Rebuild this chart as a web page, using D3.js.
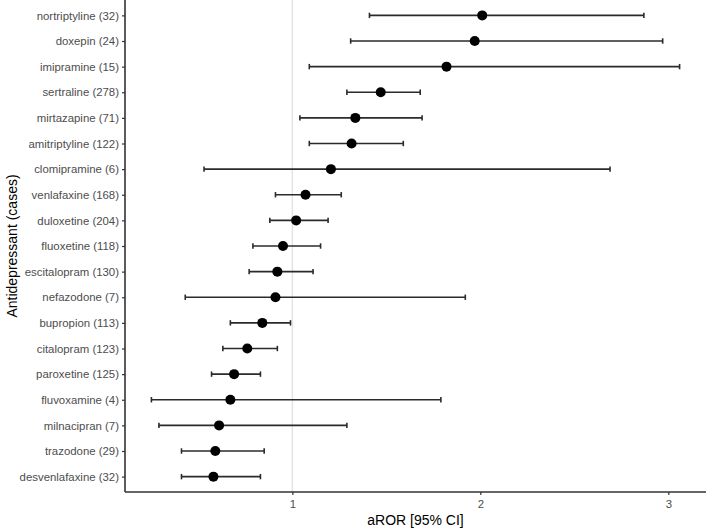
<!DOCTYPE html>
<html>
<head>
<meta charset="utf-8">
<script src="https://cdn.jsdelivr.net/npm/d3@7"></script>
<style>
  body { margin: 0; background: #fff; }
  svg { display: block; }
</style>
</head>
<body>
<svg id="chart" width="709" height="528"></svg>
<script>
// Data (top to bottom)
const drugs = ["nortriptyline (32)","doxepin (24)","imipramine (15)","sertraline (278)","mirtazapine (71)","amitriptyline (122)","clomipramine (6)","venlafaxine (168)","duloxetine (204)","fluoxetine (118)","escitalopram (130)","nefazodone (7)","bupropion (113)","citalopram (123)","paroxetine (125)","fluvoxamine (4)","milnacipran (7)","trazodone (29)","desvenlafaxine (32)"];
const aror  = [2.01, 1.97, 1.82, 1.47, 1.335, 1.315, 1.205, 1.07, 1.02, 0.95, 0.92, 0.91, 0.84, 0.76, 0.69, 0.67, 0.61, 0.59, 0.58];
const lower = [1.41, 1.31, 1.09, 1.29, 1.04, 1.09, 0.53, 0.91, 0.88, 0.79, 0.77, 0.43, 0.67, 0.63, 0.57, 0.25, 0.29, 0.41, 0.41];
const upper = [2.87, 2.97, 3.06, 1.68, 1.69, 1.59, 2.69, 1.26, 1.19, 1.15, 1.11, 1.92, 0.99, 0.92, 0.83, 1.79, 1.29, 0.85, 0.83];
const xTicks = [1, 2, 3];

const svg = d3.select("#chart");
const margin = {left: 125, right: 3, top: 0, bottom: 36};
const W = 709, H = 528;
const FONT = "Liberation Sans, Arial, sans-serif";

const lo = d3.min(lower), hi = d3.max(upper), pad = (hi - lo) * 0.05;
const x = d3.scaleLinear().domain([lo - pad, hi + pad]).range([margin.left, W - margin.right]);
const y = d3.scalePoint().domain(drugs).range([margin.top, H - margin.bottom]).padding(0.6);

// reference line at 1
svg.append("line")
  .attr("x1", x(1)).attr("x2", x(1))
  .attr("y1", margin.top).attr("y2", H - margin.bottom)
  .attr("stroke", "#e3e3e3").attr("stroke-width", 1.5);

const rows = drugs.map((d, i) => ({d, m: aror[i], l: lower[i], u: upper[i]}));
const capH = 2.7;
const g = svg.append("g");
rows.forEach(r => {
  const yy = y(r.d);
  g.append("line").attr("x1", x(r.l)).attr("x2", x(r.u)).attr("y1", yy).attr("y2", yy)
    .attr("stroke", "#2b2b2b").attr("stroke-width", 1.6);
  [r.l, r.u].forEach(v => g.append("line").attr("x1", x(v)).attr("x2", x(v))
    .attr("y1", yy - capH).attr("y2", yy + capH).attr("stroke", "#2b2b2b").attr("stroke-width", 1.6));
  g.append("circle").attr("cx", x(r.m)).attr("cy", yy).attr("r", 5).attr("fill", "#000");
});

// axes
const xAxis = svg.append("g").attr("transform", `translate(0,${H - margin.bottom})`)
  .call(d3.axisBottom(x).tickValues(xTicks).tickFormat(d3.format("d")).tickSize(3).tickPadding(5));
const yAxis = svg.append("g").attr("transform", `translate(${margin.left},0)`)
  .call(d3.axisLeft(y).tickSize(3).tickPadding(3));
[xAxis, yAxis].forEach(a => {
  a.select(".domain").attr("stroke", "#333").attr("stroke-width", 1.6);
  a.selectAll(".tick line").attr("stroke", "#333").attr("stroke-width", 1.2);
  a.selectAll(".tick text").attr("fill", "#4d4d4d").style("font-family", FONT).style("font-size", "11.4px");
});
xAxis.select(".domain").attr("d", `M${margin.left},0H${W - margin.right}`);
yAxis.select(".domain").attr("d", `M0,${margin.top}V${H - margin.bottom}`);

// titles
svg.append("text").attr("x", (margin.left + W - margin.right) / 2).attr("y", 525)
  .attr("text-anchor", "middle").style("font-family", FONT)
  .style("font-size", "14px").attr("fill", "#000").text("aROR [95% CI]");
svg.append("text").attr("transform", `translate(17,${(margin.top + H - margin.bottom) / 2}) rotate(-90)`)
  .attr("text-anchor", "middle").style("font-family", FONT)
  .style("font-size", "14px").attr("fill", "#000").text("Antidepressant (cases)");
</script>
</body>
</html>
